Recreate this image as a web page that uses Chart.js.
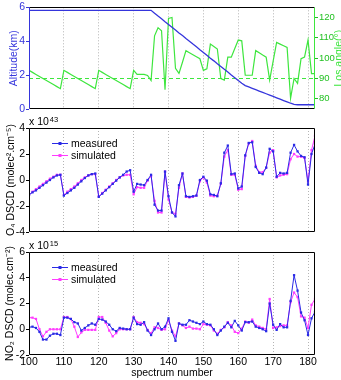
<!DOCTYPE html>
<html>
<head>
<meta charset="utf-8">
<script src="https://cdn.jsdelivr.net/npm/chart.js@4.4.0/dist/chart.umd.min.js"></script>
<style>
  body { margin: 0; background: #fff; width: 341px; height: 380px; position: relative; overflow: hidden; }
  canvas { position: absolute; left: 0; }
</style>
</head>
<body>
<canvas id="altChart" width="341" height="120" style="top:0"></canvas>
<canvas id="o4Chart" width="341" height="130" style="top:114px"></canvas>
<canvas id="no2Chart" width="341" height="142" style="top:238px"></canvas>
<script>
// spectrum numbers (x axis)
const spectra = [100,101,102,103,104,105,106,107,108,109,110,111,112,113,114,115,116,117,118,119,
  120,121,122,123,124,125,126,127,128,129,130,131,132,133,134,135,136,137,138,139,
  140,141,142,143,144,145,146,147,148,149,150,151,152,153,154,155,156,157,158,159,
  160,161,162,163,164,165,166,167,168,169,170,171,172,173,174,175,176,177,178,179,
  180,181,182];

// top panel
const altitude = [5.82,5.82,5.82,5.82,5.82,5.82,5.82,5.82,5.82,5.82,5.82,5.82,5.82,5.82,5.82,5.82,5.82,5.82,5.82,5.82,
  5.82,5.82,5.82,5.82,5.82,5.82,5.82,5.82,5.82,5.82,5.82,5.82,5.82,5.82,5.82,5.82,5.65,5.48,5.32,5.15,
  4.99,4.82,4.66,4.49,4.33,4.16,4.0,3.83,3.67,3.5,3.34,3.17,3.0,2.84,2.67,2.51,2.34,2.18,2.01,1.85,
  1.68,1.52,1.38,1.3,1.22,1.14,1.06,0.98,0.9,0.82,0.74,0.66,0.58,0.5,0.42,0.34,0.27,0.25,0.25,0.25,
  0.25,0.25,0.25];
const losAngle = [94,93,92,91,90,89,88,87,86,85,94,93,92,91,90,89,88,87,86,85,
  94,93,92,91,90,89,88,87,86,85,94,92,92,92,91.5,89,111,115,113.5,84.5,
  119.5,120,95,92.5,98,103.7,102.7,101.7,100.7,99.7,94,94.8,106.9,105.7,104.5,90,89.2,100.5,100.5,104.7,
  108.9,108.5,91.6,91.6,91.6,103.7,102.6,101.5,100.5,89.2,98.5,107.7,106.9,106.1,105.3,80.3,90,87.6,99.7,100.5,
  108.9,92.4,92.4];
const refAngle = 90;

// O4 DSCD (x 1e43)
const o4Measured = [-1.15,-0.95,-0.8,-0.6,-0.4,-0.2,0.0,0.2,0.35,0.4,-1.2,-1.0,-0.8,-0.6,-0.35,-0.1,0.15,0.35,0.45,0.5,
  -1.3,-1.05,-0.8,-0.55,-0.3,-0.05,0.2,0.4,0.65,0.75,-0.9,-0.3,-0.35,-0.4,0.0,0.4,-1.9,-2.35,-2.35,0.65,
  -1.25,-2.5,-2.8,-0.4,0.5,-1.25,-1.3,-1.25,-1.2,0.0,0.25,-0.05,-1.1,-1.15,-1.25,-0.25,2.1,2.65,0.45,0.5,
  -0.65,-0.5,1.9,2.85,2.9,1.0,0.55,0.45,0.95,2.4,2.2,0.25,0.55,0.5,0.55,2.1,2.7,2.2,1.85,1.75,
  -0.35,2.0,2.75];
const o4Simulated = [-1.15,-0.9,-0.7,-0.5,-0.3,-0.1,0.1,0.25,0.4,0.4,-1.15,-0.9,-0.7,-0.5,-0.25,0.0,0.2,0.35,0.45,0.45,
  -1.25,-1.0,-0.75,-0.5,-0.25,0.0,0.2,0.35,0.4,0.4,-1.1,-0.55,-0.6,-0.6,-0.05,0.3,-1.6,-2.5,-2.5,0.65,
  -1.5,-2.5,-2.6,-0.6,0.5,-1.3,-1.35,-1.3,-1.2,-0.1,0.2,-0.2,-1.2,-1.25,-1.2,-0.3,1.8,2.3,0.4,0.4,
  -0.75,-0.7,1.85,2.8,3.0,1.1,0.6,0.6,0.95,2.1,2.3,0.2,0.35,0.4,0.45,1.6,2.0,1.8,1.8,1.7,
  -0.1,2.3,3.4];

// NO2 DSCD (x 1e15)
const no2Measured = [0.15,0.2,0.1,-0.2,-0.8,-0.8,-0.5,-0.35,-0.35,-0.45,0.9,0.9,0.8,0.55,0.45,-0.1,0.1,0.3,0.45,0.35,
  0.8,0.75,0.6,0.35,0.0,-0.15,0.1,0.05,0.0,0.0,0.9,0.4,0.35,0.55,-0.1,-0.45,0.0,0.45,0.0,0.2,
  0.85,-0.2,-0.9,0.45,0.35,0.35,0.7,0.6,0.5,0.4,0.6,0.4,0.35,0.0,-0.45,-0.1,0.2,0.5,0.15,0.65,
  0.3,-0.1,0.55,0.55,0.6,0.2,0.1,0.0,-0.15,2.0,0.35,-0.05,0.4,0.15,0.15,2.2,4.2,3.0,1.3,0.7,
  -0.45,0.85,1.35];
const no2Simulated = [0.9,0.9,0.8,0.0,-0.55,-0.2,0.0,0.0,0.0,0.0,0.95,0.95,0.8,0.2,-0.6,-0.25,-0.05,-0.05,-0.05,-0.05,
  0.95,0.95,0.5,-0.1,-0.55,-0.3,0.0,0.0,0.0,0.0,0.95,0.55,0.5,0.4,-0.05,-0.3,0.15,0.1,-0.05,0.0,
  0.7,-0.1,-0.55,0.45,0.3,0.1,0.2,0.05,0.05,0.0,0.4,0.35,0.3,-0.1,-0.35,-0.05,0.15,0.55,0.3,-0.2,
  -0.3,0.05,0.6,0.5,0.75,0.3,0.2,0.1,0.0,2.35,0.1,0.15,0.25,0.3,0.3,2.1,2.85,2.5,1.0,0.9,
  0.1,1.9,2.35];

// tick labels
const xTicks = [100,110,120,130,140,150,160,170,180];
const altTicks = [0,2,4,6];
const angleTicks = [80,90,100,110,120];
const o4Ticks = [-4,-2,0,2,4];
const no2Ticks = [-2,0,2,4,6];

const BLUE = '#3535dc';
const GREEN = '#3ee63e';
const MEAS = '#2a2ae6';
const SIM = '#ff3cff';
const FONT = "'Liberation Sans', Arial, sans-serif";

Chart.defaults.font.family = FONT;
Chart.defaults.font.size = 10.5;
Chart.defaults.color = '#000';

function pts(ys) {
  return spectra.map((x, i) => ({ x: x, y: ys[i] }));
}

// frame around the plot area (MATLAB box)
const frame = {
  id: 'frame',
  afterDatasetsDraw(chart, args, opts) {
    const a = chart.chartArea;
    const ctx = chart.ctx;
    const c = Object.assign({ left: '#000', right: '#000', top: '#000', bottom: '#000' }, opts);
    ctx.save();
    ctx.lineWidth = 1;
    const seg = (x1, y1, x2, y2, col) => {
      ctx.strokeStyle = col;
      ctx.beginPath(); ctx.moveTo(x1, y1); ctx.lineTo(x2, y2); ctx.stroke();
    };
    const L = Math.round(a.left) + 0.5, R = Math.round(a.right) - 0.5;
    const T = Math.round(a.top) + 0.5, B = Math.round(a.bottom) - 0.5;
    seg(L, T, R, T, c.top);
    seg(L, B, R, B, c.bottom);
    seg(L, T, L, B, c.left);
    seg(R, T, R, B, c.right);
    ctx.restore();
  }
};

// small legend inside the plot, top left
const miniLegend = {
  id: 'miniLegend',
  afterDatasetsDraw(chart, args, opts) {
    if (!opts.items) return;
    const a = chart.chartArea;
    const ctx = chart.ctx;
    ctx.save();
    opts.items.forEach((it, i) => {
      const y = a.top + 15.5 + i * 12;
      const x0 = a.left + 23;
      ctx.strokeStyle = it.color;
      ctx.lineWidth = 1;
      ctx.beginPath(); ctx.moveTo(x0, y); ctx.lineTo(x0 + 16, y); ctx.stroke();
      ctx.fillStyle = it.color;
      ctx.fillRect(x0 + 6.5, y - 1.5, 3, 3);
      ctx.fillStyle = '#000';
      ctx.font = '10.5px ' + FONT;
      ctx.textBaseline = 'middle';
      ctx.fillText(it.text, x0 + 19, y + 0.5);
    });
    ctx.restore();
  }
};

// "x 10^n" multiplier above the axis
const multiplier = {
  id: 'multiplier',
  afterDraw(chart, args, opts) {
    if (!opts.exp) return;
    const a = chart.chartArea;
    const ctx = chart.ctx;
    ctx.save();
    ctx.fillStyle = '#000';
    ctx.textBaseline = 'middle';
    ctx.font = '10.5px ' + FONT;
    ctx.fillText('x 10', a.left, a.top - 5.5);
    const w = ctx.measureText('x 10').width;
    ctx.font = '7.5px ' + FONT;
    ctx.fillText(opts.exp, a.left + w + 1, a.top - 8.5);
    ctx.restore();
  }
};

// right-hand axis title reading bottom to top
const rightTitle = {
  id: 'rightTitle',
  afterDraw(chart, args, opts) {
    if (!opts.text) return;
    const a = chart.chartArea;
    const ctx = chart.ctx;
    ctx.save();
    ctx.translate(opts.x, (a.top + a.bottom) / 2);
    ctx.rotate(-Math.PI / 2);
    ctx.fillStyle = opts.color;
    ctx.font = '10.5px ' + FONT;
    ctx.textAlign = 'center';
    ctx.textBaseline = 'middle';
    ctx.fillText(opts.text, 0, 0);
    ctx.restore();
  }
};

Chart.register(frame, miniLegend, multiplier, rightTitle);

function xScale(height, showLabels) {
  return {
    type: 'linear',
    min: 100,
    max: 182,
    afterBuildTicks: s => { s.ticks = xTicks.map(v => ({ value: v })); },
    afterFit: s => { s.height = height; },
    grid: { color: '#b4b4b4', lineWidth: 1, drawTicks: false },
    border: { display: false, dash: [1, 2] },
    ticks: { display: showLabels, padding: 1, maxRotation: 0, color: '#000', font: { size: 10.5 } },
    title: {
      display: showLabels,
      text: 'spectrum number',
      padding: { top: 0, bottom: 1 },
      font: { size: 10.5 }
    }
  };
}

function yScale(pos, min, max, tickVals, width, title, color, titlePad, tickSize) {
  return {
    type: 'linear',
    position: pos,
    min: min,
    max: max,
    afterBuildTicks: s => { s.ticks = tickVals.map(v => ({ value: v })); },
    afterFit: s => { s.width = width; },
    grid: { drawOnChartArea: false, drawTicks: true, tickLength: 3, color: color },
    border: { display: false },
    ticks: { padding: 1, color: color, font: { size: tickSize || 10.5 } },
    title: {
      display: !!title,
      text: title,
      color: color,
      font: { size: 10.5 },
      padding: { top: titlePad, bottom: 0 }
    }
  };
}

// top: altitude and line of sight angle
new Chart(document.getElementById('altChart'), {
  type: 'line',
  data: {
    datasets: [
      {
        data: pts(altitude),
        yAxisID: 'yL',
        borderColor: BLUE,
        borderWidth: 1.3,
        pointRadius: 0
      },
      {
        data: pts(losAngle),
        yAxisID: 'yR',
        borderColor: GREEN,
        borderWidth: 1.2,
        pointRadius: 0
      },
      {
        data: [{ x: 100, y: refAngle }, { x: 182, y: refAngle }],
        yAxisID: 'yR',
        borderColor: GREEN,
        borderWidth: 1.2,
        borderDash: [4, 3],
        pointRadius: 0
      }
    ]
  },
  options: {
    responsive: false,
    animation: false,
    layout: { padding: { top: 7, left: 0, right: 0, bottom: 0 } },
    plugins: {
      legend: { display: false },
      tooltip: { enabled: false },
      frame: { left: BLUE, right: GREEN },
      rightTitle: { text: 'Los angle(°)', color: GREEN, x: 339 }
    },
    scales: {
      x: xScale(11, false),
      yL: yScale('left', 0, 6, altTicks, 29, 'Altitude(km)', BLUE, 8),
      yR: yScale('right', 75, 125, angleTicks, 26, '', '#22c022', 0, 9.5)
    }
  }
});

// middle: O4
new Chart(document.getElementById('o4Chart'), {
  type: 'line',
  data: {
    datasets: [
      {
        label: 'measured',
        data: pts(o4Measured),
        borderColor: MEAS,
        backgroundColor: MEAS,
        borderWidth: 1,
        pointRadius: 1.6,
        pointStyle: 'rect',
        pointBorderWidth: 0
      },
      {
        label: 'simulated',
        data: pts(o4Simulated),
        borderColor: SIM,
        backgroundColor: SIM,
        borderWidth: 1,
        pointRadius: 1.6,
        pointStyle: 'rect',
        pointBorderWidth: 0
      }
    ]
  },
  options: {
    responsive: false,
    animation: false,
    layout: { padding: { top: 14, left: 0, right: 26, bottom: 0 } },
    plugins: {
      legend: { display: false },
      tooltip: { enabled: false },
      miniLegend: { items: [{ text: 'measured', color: MEAS }, { text: 'simulated', color: SIM }] },
      multiplier: { exp: '43' }
    },
    scales: {
      x: xScale(12, false),
      y: yScale('left', -4, 4, o4Ticks, 29, 'O₄ DSCD (molec².cm⁻⁵)', '#000', 5)
    }
  }
});

// bottom: NO2
new Chart(document.getElementById('no2Chart'), {
  type: 'line',
  data: {
    datasets: [
      {
        label: 'measured',
        data: pts(no2Measured),
        borderColor: MEAS,
        backgroundColor: MEAS,
        borderWidth: 1,
        pointRadius: 1.6,
        pointStyle: 'rect',
        pointBorderWidth: 0
      },
      {
        label: 'simulated',
        data: pts(no2Simulated),
        borderColor: SIM,
        backgroundColor: SIM,
        borderWidth: 1,
        pointRadius: 1.6,
        pointStyle: 'rect',
        pointBorderWidth: 0
      }
    ]
  },
  options: {
    responsive: false,
    animation: false,
    layout: { padding: { top: 14, left: 0, right: 26, bottom: 0 } },
    plugins: {
      legend: { display: false },
      tooltip: { enabled: false },
      miniLegend: { items: [{ text: 'measured', color: MEAS }, { text: 'simulated', color: SIM }] },
      multiplier: { exp: '15' }
    },
    scales: {
      x: xScale(25, true),
      y: yScale('left', -2, 6, no2Ticks, 29, 'NO₂ DSCD (molec.cm⁻²)', '#000', 4)
    }
  }
});
</script>
</body>
</html>
